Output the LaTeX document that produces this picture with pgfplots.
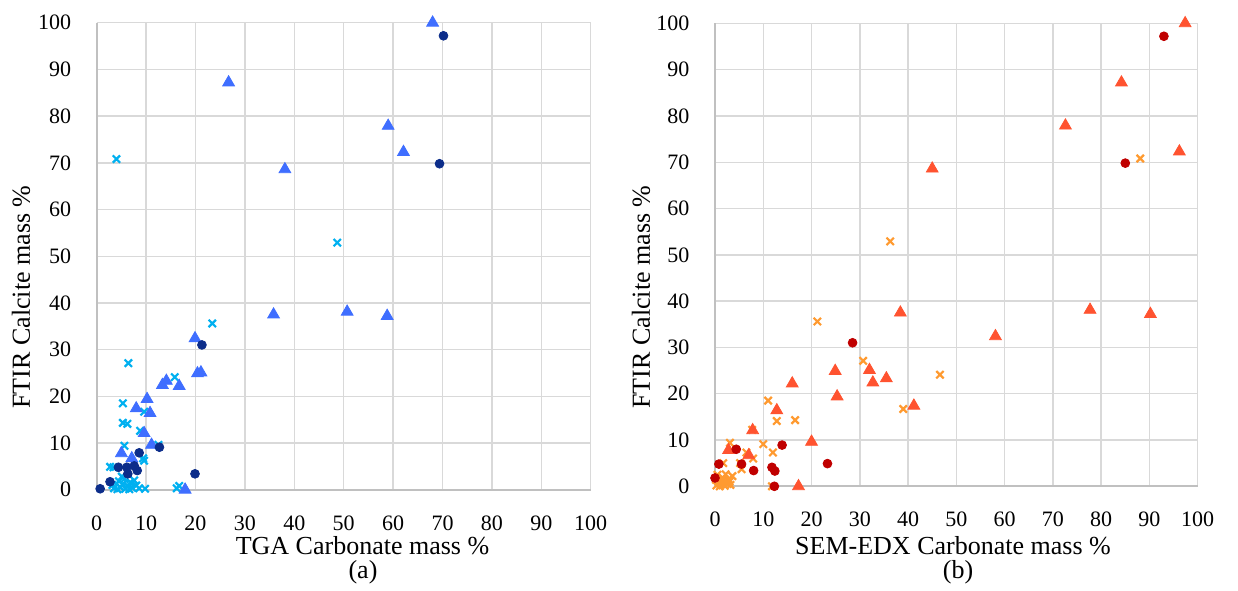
\documentclass[border=0pt]{standalone}
\usepackage{fontspec}
\setmainfont{Liberation Serif}
\usepackage{pgfplots}
\pgfplotsset{compat=1.18}

\definecolor{navyc}{HTML}{0C2D8A}
\definecolor{bluet}{HTML}{3F6EFF}
\definecolor{cyanx}{HTML}{00B0F0}
\definecolor{redc}{HTML}{C00000}
\definecolor{oranget}{HTML}{FF5330}
\definecolor{orangex}{HTML}{FF9A30}
\definecolor{gridc}{HTML}{D9D9D9}
\definecolor{axisc}{HTML}{C0C0C0}

\pgfplotsset{
    panel/.style={
        scale only axis,
        anchor=south west,
        xmin=0, xmax=100, ymin=0, ymax=100,
        xtick={0,10,...,100}, ytick={0,10,...,100},
        grid=major,
        major grid style={gridc, line width=0.7pt},
        axis lines=left,
        axis line style={axisc, line width=1.1pt, -},
        tick style={draw=none},
        tick label style={font=\fontsize{11}{13}\selectfont},
        /pgf/number format/assume math mode=true,
        xticklabel style={anchor=center, yshift=-14.6pt},
        yticklabel style={anchor=east, inner sep=0pt, xshift=-10.5pt},
        clip=false,
    },
    circ/.style={only marks, mark=*, mark size=2.2pt, mark options={draw=#1, fill=#1}},
    tri/.style={only marks, mark=triangle*, mark size=3.4pt, mark options={draw=#1, fill=#1}},
    crs/.style={only marks, mark=x, mark size=2.6pt, mark options={draw=#1, line width=1.1pt}},
}

\begin{document}
\begin{tikzpicture}
\useasboundingbox (-48.35pt,-50.15pt) rectangle (570.65pt,244.85pt);

% (a) TGA
\begin{axis}[panel, at={(0pt,0pt)}, width=247pt, height=233.5pt]
\addplot[crs=cyanx] coordinates {
(4.0,70.8) (48.7,52.9) (23.4,35.6) (6.4,27.1) (15.8,24.1) (5.3,18.5) (9.6,16.7)
(5.3,14.3) (6.2,14.1) (8.8,12.6) (12.5,9.6) (5.6,9.4) (9.4,6.7) (9.6,6.2)
(2.7,4.9) (3.4,4.8) (5.1,2.8) (9.8,0.2) (16.2,0.3) (16.7,0.8)
(3.5,0.3) (4.2,0.1) (4.8,0.5) (5.3,1.2) (5.8,0.2) (6.3,0.8) (6.8,1.6) (7.2,0.4)
(7.6,2.0) (8.0,0.9) (4.5,1.8) (5.6,2.3) (6.6,0.1) (3.2,1.0) (8.6,0.3) (7.0,1.3)
};
\addplot[tri=bluet] coordinates {
(68.0,100.0) (26.7,87.2) (59.0,77.9) (62.1,72.3) (38.1,68.6) (50.7,38.1) (35.8,37.5)
(58.8,37.2) (19.9,32.4) (21.1,25.1) (20.4,24.9) (14.1,23.3) (13.3,22.4) (16.7,22.2)
(10.2,19.4) (8.0,17.4) (10.8,16.4) (9.6,12.1) (11.1,9.6) (5.0,7.8) (7.1,6.7) (17.9,0.0)
};
\addplot[circ=navyc] coordinates {
(70.2,97.2) (69.4,69.8) (21.3,31.0) (12.7,9.1) (8.6,7.9) (4.4,4.8) (6.1,4.8)
(7.6,5.1) (8.2,4.1) (6.3,3.4) (19.9,3.4) (2.7,1.7) (0.7,0.2)
};
\end{axis}

% (b) SEM-EDX
\begin{axis}[panel, at={(309.15pt,1.7pt)}, width=241.35pt, height=231.5pt]
\addplot[crs=orangex] coordinates {
(88.1,70.8) (36.3,52.9) (21.2,35.6) (30.7,27.1) (46.6,24.1) (11.0,18.5) (39.0,16.7)
(16.6,14.3) (12.8,14.1) (7.7,12.2) (10.0,9.1) (3.1,9.4) (6.5,7.3) (7.9,6.0)
(12.0,7.3) (5.5,3.7) (11.8,0.0) (1.7,5.0) (5.2,5.0)
(0.3,0.2) (0.8,1.0) (1.2,0.4) (1.6,1.8) (2.0,0.1) (2.4,0.9) (2.8,1.5) (3.2,0.3)
(3.6,2.2) (0.5,2.5) (1.0,0.0) (2.2,2.6) (1.5,1.2) (3.0,1.0) (0.2,1.4) (2.6,0.5)
};
\addplot[tri=oranget] coordinates {
(97.4,100.0) (84.2,87.2) (72.6,77.9) (96.2,72.3) (45.0,68.6) (77.7,38.1) (38.4,37.5)
(90.2,37.2) (58.1,32.4) (32.0,25.1) (24.9,24.9) (35.5,23.3) (32.7,22.4) (16.0,22.2)
(25.3,19.4) (41.2,17.4) (12.8,16.4) (7.8,12.1) (20.0,9.6) (2.8,7.8) (7.0,6.7) (17.3,0.0)
};
\addplot[circ=redc] coordinates {
(93.0,97.2) (85.0,69.8) (28.5,31.0) (13.9,8.9) (4.4,8.0) (23.3,4.9) (0.8,4.8)
(5.5,4.8) (11.8,4.1) (8.0,3.4) (12.4,3.3) (0.0,1.8) (12.3,0.0)
};
\end{axis}

\begin{scope}[font=\fontsize{13}{15}\selectfont]
\node at (132.9pt,-28.15pt) {TGA Carbonate mass \%};
\node at (133.15pt,-41.5pt) {(a)};
\node[rotate=90] at (-37.85pt,96.35pt) {FTIR Calcite mass \%};
\node at (428.15pt,-28.15pt) {SEM-EDX Carbonate mass \%};
\node at (430.65pt,-41.5pt) {(b)};
\node[rotate=90] at (272.15pt,96.35pt) {FTIR Calcite mass \%};
\end{scope}
\end{tikzpicture}
\end{document}
